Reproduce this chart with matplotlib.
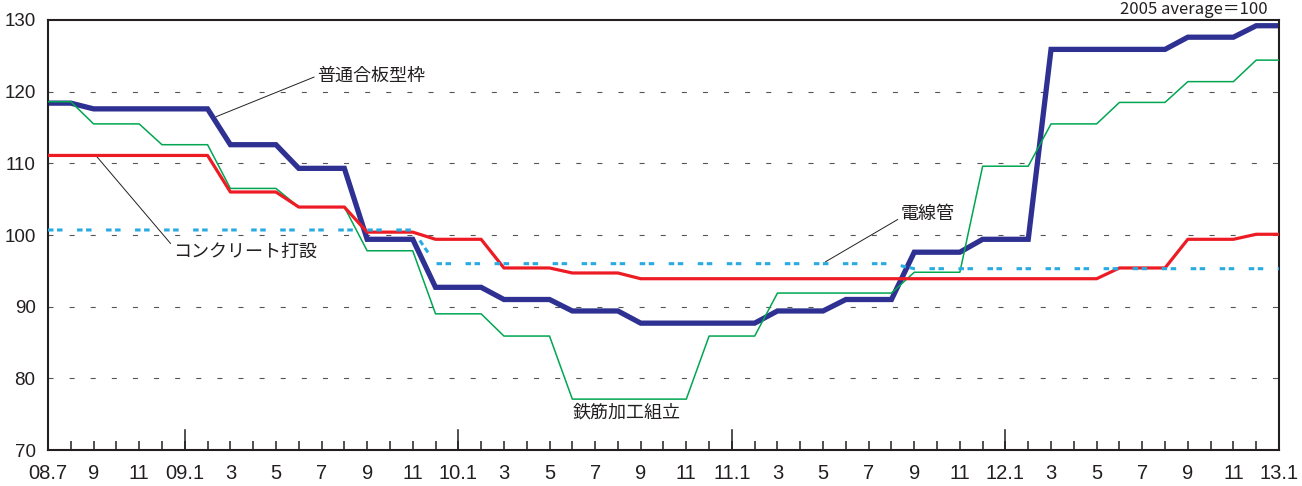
import matplotlib
matplotlib.use("Agg")
import matplotlib.pyplot as plt
import numpy as np

plt.rcParams['font.family'] = ['Noto Sans CJK JP', 'DejaVu Sans']

# months from 2008.7 (0) to 2013.1 (54)
months = np.arange(55)

# 普通合板型枠
plywood = [118.4, 118.4] + [117.6]*6 + [112.6]*3 + [109.3]*3 + [99.4]*3 + \
          [92.7]*3 + [91.0]*3 + [89.4]*3 + [87.7]*6 + [89.4]*3 + [91.0]*3 + \
          [97.6]*3 + [99.4]*3 + [125.9]*6 + [127.6]*3 + [129.2]*2
# コンクリート打設
concrete = [111.1]*8 + [106.0]*3 + [103.9]*3 + [100.4]*3 + [99.4]*3 + \
           [95.4]*3 + [94.7]*3 + [93.9]*21 + [95.4]*3 + [99.4]*3 + [100.1]*2
# 鉄筋加工組立
rebar = [118.6]*2 + [115.5]*3 + [112.6]*3 + [106.5]*3 + [103.9]*3 + [97.8]*3 + \
        [89.0]*3 + [85.9]*3 + [77.1]*6 + [85.9]*3 + [91.9]*6 + [94.8]*3 + \
        [109.6]*3 + [115.5]*3 + [118.5]*3 + [121.4]*3 + [124.4]*2
# 電線管
conduit = [100.7]*17 + [96.0]*21 + [95.3]*17

tick_months = list(range(0, 55, 2))
tick_labels = ['08.7', '9', '11', '09.1', '3', '5', '7', '9', '11',
               '10.1', '3', '5', '7', '9', '11', '11.1', '3', '5', '7', '9', '11',
               '12.1', '3', '5', '7', '9', '11', '13.1']
year_starts = [6, 18, 30, 42]

ink = '#231F20'

fig = plt.figure(figsize=(13.02, 4.86), dpi=100)
ax = fig.add_axes([48/1302, 1-450/486, (1279-48)/1302, 430/486])

for v in [80, 90, 100, 110, 120]:
    ax.axhline(v, color='#555555', lw=0.8, ls=(0, (4.5, 14.5)), zorder=1)

ax.plot(months, plywood, color='#2E3192', lw=3.8, zorder=2, solid_joinstyle='miter')
ax.plot(months, rebar, color='#00A651', lw=1.1, zorder=3)
ax.plot(months, concrete, color='#ED1C24', lw=2.3, zorder=4)
ax.plot(months, conduit, color='#29ABE2', lw=2.2, ls=(0, (1.8, 1.15, 1.8, 4.75)), zorder=5)

ax.set_xlim(0, 54)
ax.set_ylim(70, 130)
ax.set_yticks([70, 80, 90, 100, 110, 120, 130])
ax.tick_params(axis='y', length=0, pad=9, labelsize=13.5, colors=ink)

ax.set_xticks(tick_months)
ax.set_xticklabels(tick_labels)
ax.set_xticks(months, minor=True)
ax.tick_params(axis='x', which='major', direction='in', length=6.5, width=1.1,
               pad=10, labelsize=14.5, colors=ink)
ax.tick_params(axis='x', which='minor', direction='in', length=6.5, width=1.1, colors=ink)
for lab in ax.get_xticklabels() + ax.get_yticklabels():
    lab.set_family('Liberation Sans')
for m in year_starts:
    ax.plot([m, m], [70, 72.8], color=ink, lw=1.1, zorder=6, clip_on=False)

for s in ax.spines.values():
    s.set_color(ink)
    s.set_linewidth(1.5)

# labels with leader lines
ax.annotate('普通合板型枠', xy=(7.37, 116.5), xytext=(11.8, 122.2),
            fontsize=13, color=ink, va='center', ha='left',
            arrowprops=dict(arrowstyle='-', color=ink, lw=0.7, shrinkA=0, shrinkB=0,
                            relpos=(0, 0.5)))
ax.annotate('コンクリート打設', xy=(2.15, 110.9), xytext=(5.5, 97.6),
            fontsize=13, color=ink, va='center', ha='left',
            arrowprops=dict(arrowstyle='-', color=ink, lw=0.7, shrinkA=0, shrinkB=0,
                            relpos=(0, 0.8)))
ax.annotate('電線管', xy=(34.1, 96.25), xytext=(37.4, 102.9),
            fontsize=13, color=ink, va='center', ha='left',
            arrowprops=dict(arrowstyle='-', color=ink, lw=0.7, shrinkA=0, shrinkB=0,
                            relpos=(0, 0.3)))
ax.text(25.4, 75.2, '鉄筋加工組立', fontsize=13, color=ink, ha='center', va='center')

fig.text(1268/1302, 1-1/486, '2005 average＝100', fontsize=12, color=ink,
         ha='right', va='top')

fig.savefig('out.png', dpi=100)
